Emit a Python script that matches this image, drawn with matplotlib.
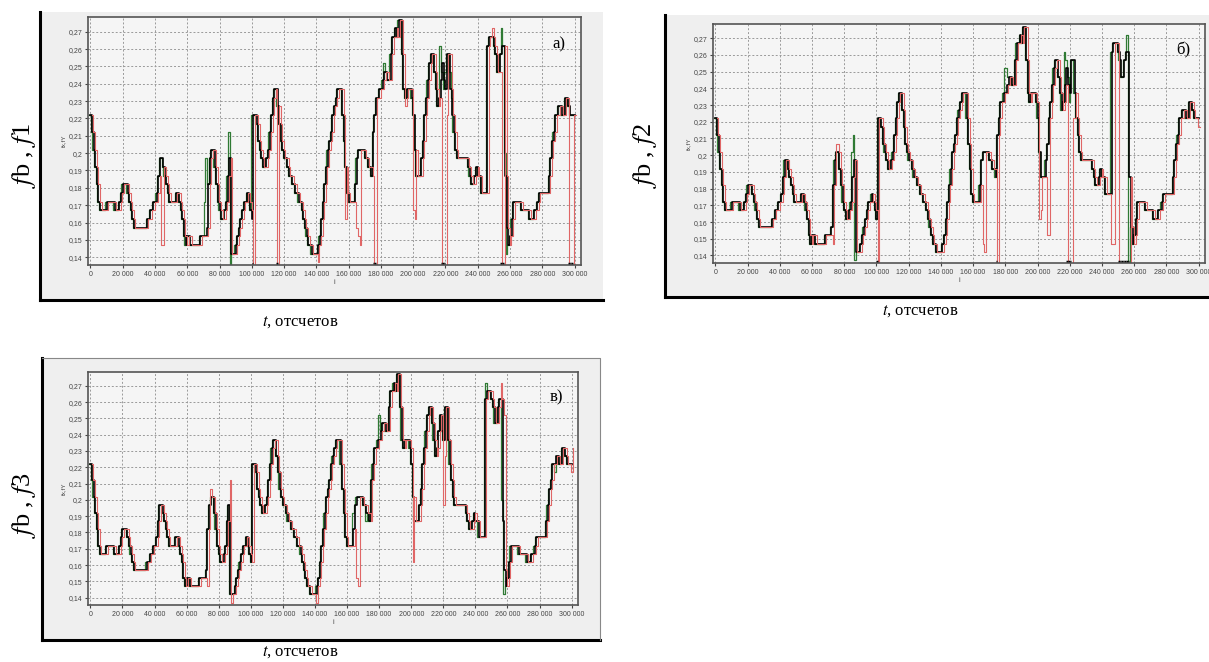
import numpy as np
import matplotlib.pyplot as plt
from matplotlib.lines import Line2D
from matplotlib.patches import Rectangle
from matplotlib import transforms
from matplotlib.ticker import FuncFormatter, MultipleLocator

plt.rcParams['mathtext.fontset'] = 'stix'

W, H = 1209, 662

# samples, one value per 1000
t = np.arange(0, 301000, 1000)

# base signal fb (black staircase)
fb = [0.222, 0.212, 0.202, 0.192, 0.182, 0.172, 0.167, 0.167, 0.167, 0.167,
      0.172, 0.172, 0.172, 0.172, 0.172, 0.167, 0.167, 0.167, 0.172, 0.177,
      0.182, 0.182, 0.182, 0.177, 0.172, 0.167, 0.162, 0.157, 0.157, 0.157,
      0.157, 0.157, 0.157, 0.157, 0.157, 0.162, 0.162, 0.167, 0.167, 0.172,
      0.172, 0.177, 0.187, 0.197, 0.197, 0.192, 0.187, 0.182, 0.177, 0.172,
      0.172, 0.172, 0.172, 0.177, 0.177, 0.172, 0.167, 0.162, 0.152, 0.147,
      0.152, 0.152, 0.147, 0.147, 0.147, 0.147, 0.147, 0.147, 0.152, 0.152,
      0.152, 0.152, 0.157, 0.182, 0.197, 0.202, 0.202, 0.192, 0.182, 0.172,
      0.167, 0.162, 0.162, 0.167, 0.172, 0.187, 0.197, 0.142, 0.142, 0.142,
      0.147, 0.152, 0.157, 0.162, 0.167, 0.172, 0.172, 0.177, 0.172, 0.167,
      0.162, 0.222, 0.222, 0.217, 0.207, 0.202, 0.197, 0.192, 0.192, 0.197,
      0.202, 0.212, 0.222, 0.232, 0.237, 0.237, 0.227, 0.217, 0.207, 0.202,
      0.197, 0.197, 0.192, 0.187, 0.187, 0.182, 0.182, 0.177, 0.177, 0.172,
      0.172, 0.167, 0.162, 0.157, 0.152, 0.147, 0.147, 0.142, 0.142, 0.142,
      0.142, 0.147, 0.152, 0.162, 0.172, 0.182, 0.192, 0.202, 0.207, 0.212,
      0.222, 0.227, 0.232, 0.237, 0.237, 0.237, 0.222, 0.207, 0.192, 0.177,
      0.172, 0.172, 0.172, 0.172, 0.182, 0.197, 0.202, 0.202, 0.202, 0.202,
      0.197, 0.197, 0.192, 0.192, 0.187, 0.212, 0.222, 0.232, 0.232, 0.237,
      0.237, 0.242, 0.247, 0.247, 0.242, 0.242, 0.257, 0.267, 0.267, 0.272,
      0.267, 0.277, 0.277, 0.257, 0.237, 0.232, 0.237, 0.237, 0.237, 0.232,
      0.222, 0.202, 0.187, 0.187, 0.187, 0.197, 0.207, 0.222, 0.232, 0.242,
      0.252, 0.257, 0.257, 0.247, 0.237, 0.227, 0.232, 0.242, 0.252, 0.242,
      0.237, 0.257, 0.257, 0.237, 0.222, 0.212, 0.202, 0.197, 0.197, 0.197,
      0.197, 0.197, 0.197, 0.197, 0.192, 0.187, 0.182, 0.182, 0.187, 0.192,
      0.187, 0.187, 0.177, 0.177, 0.177, 0.177, 0.262, 0.267, 0.267, 0.267,
      0.262, 0.257, 0.247, 0.247, 0.257, 0.262, 0.262, 0.187, 0.157, 0.147,
      0.152, 0.162, 0.172, 0.172, 0.172, 0.172, 0.172, 0.167, 0.167, 0.167,
      0.167, 0.167, 0.162, 0.162, 0.162, 0.167, 0.167, 0.172, 0.177, 0.177,
      0.177, 0.177, 0.177, 0.177, 0.187, 0.197, 0.207, 0.212, 0.222, 0.222,
      0.227, 0.227, 0.222, 0.222, 0.232, 0.232, 0.227, 0.222, 0.222, 0.222,
      0.222]

# where f1 / f2 / f3 (red) and the green curve leave fb
red_a_t = [43000, 44000, 100000, 115000, 140000, 157000, 164000, 165000, 166000,
           174000, 175000, 176000, 194000, 199000, 200000, 217000, 218000, 219000,
           220000, 248000, 254000, 255000, 296000, 297000, 298000]
red_a_v = [0.147, 0.147, 0.13, 0.13, 0.137, 0.162, 0.157, 0.152, 0.147,
           0.187, 0.13, 0.13, 0.227, 0.167, 0.162, 0.13, 0.13, 0.13,
           0.222, 0.272, 0.13, 0.13, 0.13, 0.13, 0.13]
green_a_t = [71000, 72000, 86000, 87000, 100000, 182000, 217000, 218000, 219000,
             220000, 221000, 222000, 223000, 224000, 255000, 256000, 257000, 258000]
green_a_v = [0.172, 0.197, 0.212, 0.13, 0.222, 0.252, 0.262, 0.247, 0.237,
             0.247, 0.257, 0.257, 0.247, 0.232, 0.272, 0.262, 0.2, 0.142]

red_b_t = [72000, 73000, 74000, 75000, 100000, 165000, 166000, 174000, 200000,
           201000, 205000, 206000, 218000, 219000, 220000, 221000, 222000, 245000,
           246000, 250000, 251000, 252000, 253000, 254000, 255000, 256000, 299000, 300000]
red_b_v = [0.147, 0.182, 0.207, 0.207, 0.13, 0.147, 0.142, 0.13, 0.162,
           0.167, 0.152, 0.152, 0.13, 0.13, 0.13, 0.222, 0.222, 0.147,
           0.147, 0.13, 0.13, 0.13, 0.13, 0.13, 0.13, 0.13, 0.217, 0.217]
green_b_t = [85000, 86000, 87000, 180000, 181000, 217000, 218000, 219000, 220000,
             256000, 257000]
green_b_v = [0.202, 0.212, 0.137, 0.252, 0.252, 0.262, 0.257, 0.247, 0.232,
             0.272, 0.13]

red_c_t = [72000, 73000, 74000, 86000, 87000, 100000, 140000, 165000, 166000,
           200000, 219000, 220000, 244000, 245000, 255000, 256000, 257000, 299000, 300000]
red_c_v = [0.147, 0.182, 0.207, 0.212, 0.137, 0.162, 0.137, 0.152, 0.147,
           0.162, 0.197, 0.227, 0.177, 0.177, 0.272, 0.262, 0.252, 0.217, 0.232]
green_c_t = [164000, 172000, 180000, 246000, 247000, 257000, 258000, 290000]
green_c_v = [0.192, 0.187, 0.252, 0.262, 0.272, 0.2, 0.142, 0.217]

YMIN, YMAX = 0.1355, 0.2785

fig = plt.figure(figsize=(W / 100, H / 100), dpi=100)
fig.patch.set_facecolor('white')

tick_font = 'Liberation Sans'


def px_box(x0, y0, x1, y1):
    return [x0 / W, 1 - y1 / H, (x1 - x0) / W, (y1 - y0) / H]


def frame(x0, y0, x1, y1, full=False):
    fig.add_artist(Rectangle((x0 / W, 1 - y1 / H), (x1 - x0) / W, (y1 - y0) / H,
                             transform=fig.transFigure, facecolor='#efefef',
                             edgecolor='none', zorder=-2))
    fig.add_artist(Line2D([x0 / W, x0 / W], [1 - y0 / H, 1 - y1 / H],
                          transform=fig.transFigure, color='black', lw=2.2))
    fig.add_artist(Line2D([x0 / W, x1 / W], [1 - y1 / H, 1 - y1 / H],
                          transform=fig.transFigure, color='black', lw=2.2))
    if full:
        fig.add_artist(Line2D([x0 / W, x1 / W, x1 / W], [1 - y0 / H, 1 - y0 / H, 1 - y1 / H],
                              transform=fig.transFigure, color='#888888', lw=0.8))


def panel(box, red_t, red_v, green_t, green_v, tag):
    ax = fig.add_axes(box)
    ax.set_facecolor('#f5f5f5')
    red = np.array(fb, float)
    red[np.searchsorted(t, red_t)] = red_v
    green = np.array(fb, float)
    green[np.searchsorted(t, green_t)] = green_v

    lead = transforms.offset_copy(ax.transData, fig=fig, x=-1.2, y=0, units='dots')
    lag = transforms.offset_copy(ax.transData, fig=fig, x=1.4, y=0, units='dots')
    ax.step(t, green, where='post', color='#2f7a34', lw=0.9, transform=lead)
    ax.step(t, fb, where='post', color='black', lw=1.2)
    ax.step(t, red, where='post', color='#e06666', lw=0.8, transform=lag)
    # black marks on the floor where the red curve drops out
    low = np.array(red_t)[np.array(red_v) < YMIN]
    ax.hlines([YMIN + 0.0006] * len(low), low, low + 1000, color='black', lw=2.5)

    ax.set_xlim(-1500, 304000)
    ax.set_ylim(YMIN, YMAX)
    ax.xaxis.set_major_locator(MultipleLocator(20000))
    ax.yaxis.set_major_locator(MultipleLocator(0.01))
    ax.xaxis.set_major_formatter(FuncFormatter(lambda v, _: '{:,}'.format(int(round(v))).replace(',', ' ')))
    ax.yaxis.set_major_formatter(FuncFormatter(lambda v, _: ('%.2f' % v).rstrip('0').replace('.', ',')))
    ax.grid(True, ls=(0, (2, 2)), color='#9a9a9a', lw=0.7)
    ax.tick_params(labelsize=5, length=2, pad=2, colors='#444444')
    for lab in ax.get_xticklabels() + ax.get_yticklabels():
        lab.set_family(tick_font)
    for s in ax.spines.values():
        s.set_color('#555555')
        s.set_linewidth(1.2)
    ax.set_ylabel('fx,fY', fontsize=4.5, labelpad=2, color='#444444', family=tick_font)
    ax.set_xlabel('i', fontsize=5, labelpad=1, color='#444444', family=tick_font)
    ax.text(0.955, 0.89, tag, transform=ax.transAxes, ha='center', va='center',
            fontsize=12, family='Liberation Serif')
    return ax


frame(40, 12, 603, 300)
frame(665, 15, 1209, 297)
frame(42, 358, 600, 640, full=True)

panel(px_box(88, 17, 581, 265), red_a_t, red_a_v, green_a_t, green_a_v, 'а)')
panel(px_box(713, 24, 1205, 263), red_b_t, red_b_v, green_b_t, green_b_v, 'б)')
panel(px_box(88, 372, 578, 605), red_c_t, red_c_v, green_c_t, green_c_v, 'в)')

ylabels = [('$f$b , $f$1', 24, 155), ('$f$b , $f$2', 645, 155), ('$f$b , $f$3', 24, 505)]
for s, x, y in ylabels:
    fig.text(x / W, 1 - y / H, s, rotation=90, ha='center', va='center',
             fontsize=19, family='Liberation Serif')
for x, y in [(300, 322), (920, 311), (300, 652)]:
    fig.text(x / W, 1 - y / H, '$t$, отсчетов', ha='center', va='center',
             fontsize=12, family='Liberation Serif')

fig.savefig('out.png', dpi=100)
